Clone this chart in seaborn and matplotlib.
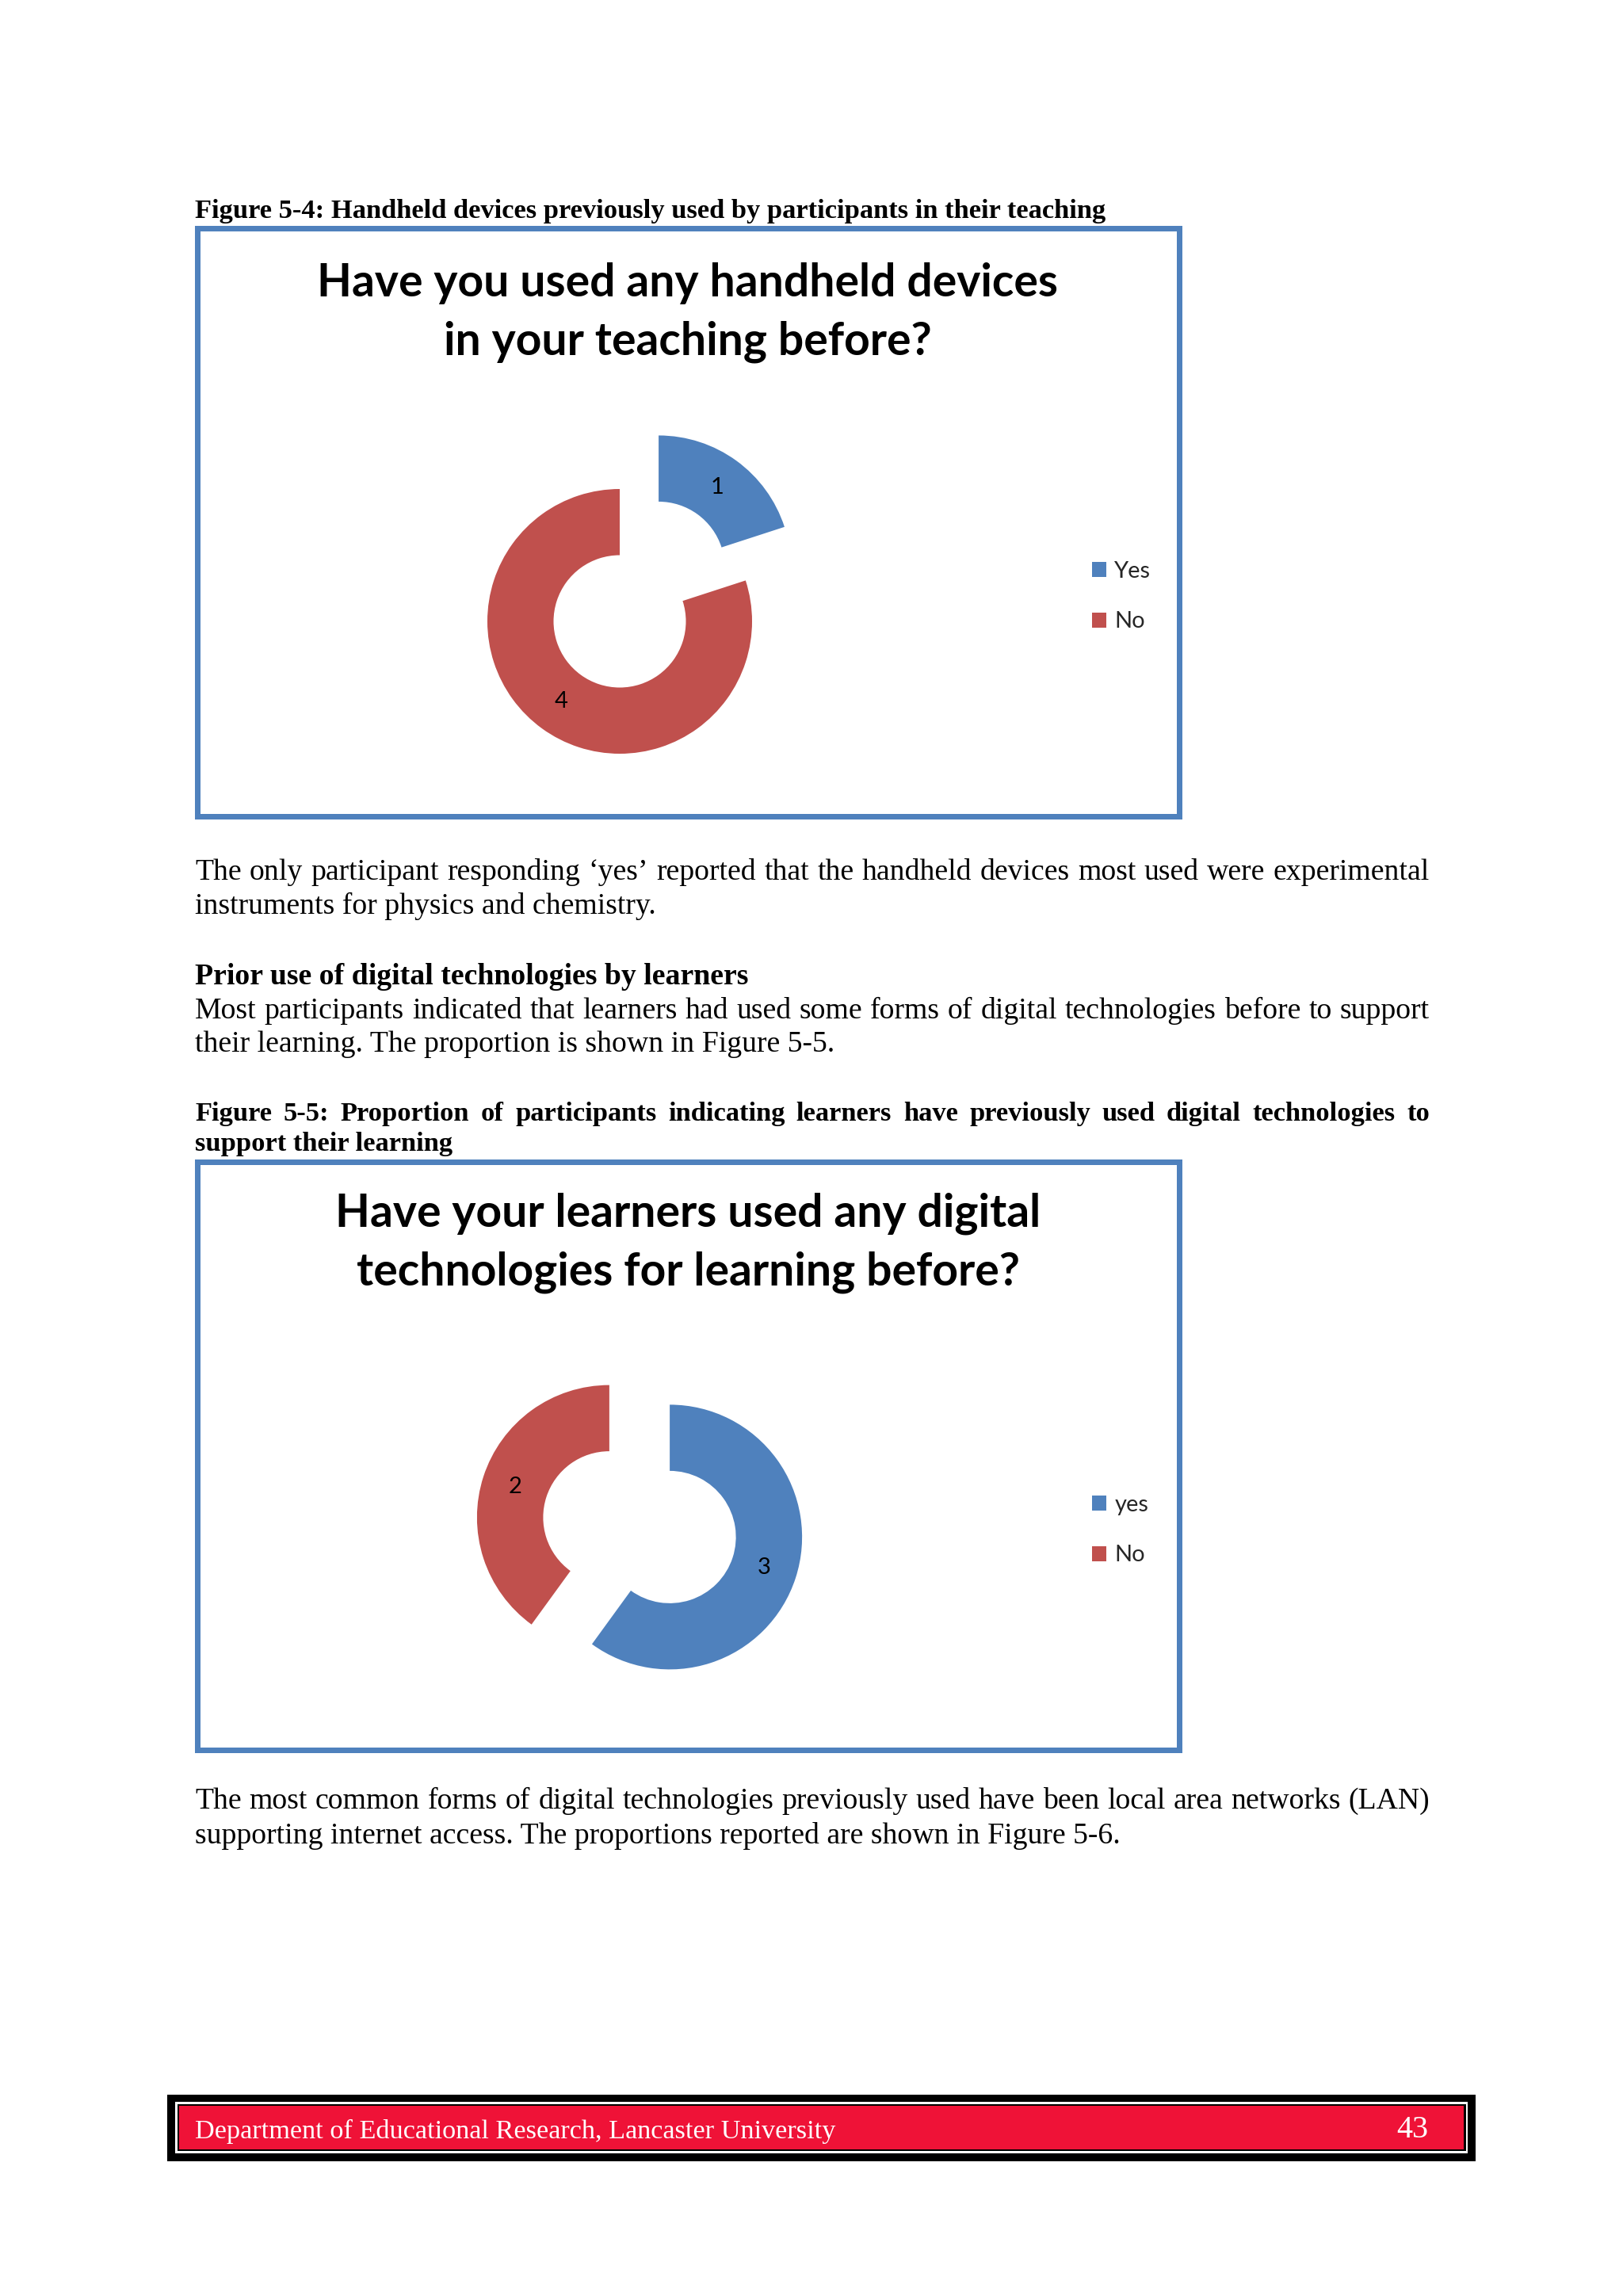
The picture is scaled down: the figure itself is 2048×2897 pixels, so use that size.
import matplotlib
matplotlib.use("Agg")
import matplotlib.pyplot as plt
import seaborn as sns
from matplotlib.patches import Rectangle

sns.set_theme(style="white")
plt.rcParams["font.family"] = ["Lato", "DejaVu Sans"]

# --- data ---
q1_title = ["Have you used any handheld devices", "in your teaching before?"]
q1_labels = ["Yes", "No"]
q1_counts = [1, 4]

q2_title = ["Have your learners used any digital", "technologies for learning before?"]
q2_labels = ["yes", "No"]
q2_counts = [3, 2]

caption_1 = "Figure 5-4: Handheld devices previously used by participants in their teaching"
para_1 = ["The only participant responding \u2018yes\u2019 reported that the handheld devices most used were experimental",
          "instruments for physics and chemistry."]
heading = "Prior use of digital technologies by learners"
para_2 = ["Most participants indicated that learners had used some forms of digital technologies before to support",
          "their learning. The proportion is shown in Figure 5-5."]
caption_2 = ["Figure 5-5: Proportion of participants indicating learners have previously used digital technologies to",
             "support their learning"]
para_3 = ["The most common forms of digital technologies previously used have been local area networks (LAN)",
          "supporting internet access. The proportions reported are shown in Figure 5-6."]
footer_text = "Department of Educational Research, Lancaster University"
page_no = "43"

blue = "#4F81BD"
red = "#C0504D"
W, H = 2048, 2897
pt = 0.72  # px -> pt at dpi 100

fig = plt.figure(figsize=(W / 100, H / 100), dpi=100)
fig.patch.set_facecolor("white")
page = fig.add_axes([0, 0, 1, 1])
page.set_xlim(0, W)
page.set_ylim(H, 0)
page.axis("off")
renderer = fig.canvas.get_renderer()

serif = ["Liberation Serif", "DejaVu Serif"]
X0, X1 = 246, 1804


def line(text, y, size, bold=False, justify=False, color="black", x=X0):
    kw = dict(fontsize=size * pt, family=serif, fontweight="bold" if bold else "normal",
              va="baseline", ha="left", color=color)
    if not justify:
        page.text(x, y, text, **kw)
        return
    words = text.split(" ")
    arts = [page.text(0, y, w, **kw) for w in words]
    widths = [a.get_window_extent(renderer).width for a in arts]
    gap = (X1 - X0 - sum(widths)) / (len(words) - 1)
    xx = X0
    for a, w in zip(arts, widths):
        a.set_x(xx)
        xx += w + gap


BODY = 37.7
CAP = 34.5

line(caption_1, 275, CAP, bold=True)
line(para_1[0], 1110, BODY, justify=True)
line(para_1[1], 1153, BODY)
line(heading, 1242, BODY, bold=True)
line(para_2[0], 1285, BODY, justify=True)
line(para_2[1], 1327, BODY)
line(caption_2[0], 1414, CAP, bold=True, justify=True)
line(caption_2[1], 1452, CAP, bold=True)
line(para_3[0], 2282, BODY, justify=True)
line(para_3[1], 2326, BODY)


def donut(box_top, cx, cy, title, labels, counts, explode, title_y):
    # chart border
    page.add_patch(Rectangle((248.5, box_top), 1239, 742, fill=False,
                             edgecolor=blue, linewidth=7 * pt))
    for t, ty in zip(title, title_y):
        page.text(868, ty, t, ha="center", va="baseline", fontsize=57 * pt,
                  fontweight="bold", color="black")
    R = 167
    half = 2.0
    ax = fig.add_axes([(cx - half * R) / W, 1 - (cy + half * R) / H,
                       2 * half * R / W, 2 * half * R / H])
    ax.set_xlim(-half, half)
    ax.set_ylim(-half, half)
    ax.set_aspect("equal")
    ax.axis("off")
    total = sum(counts)
    wedges, _, autotexts = ax.pie(
        counts, explode=explode, startangle=90, counterclock=False, radius=1,
        colors=[blue, red], wedgeprops=dict(width=0.5, edgecolor="none"),
        autopct=lambda p: f"{round(p * total / 100)}", pctdistance=0.75,
        textprops=dict(fontsize=29 * pt, color="black"))
    ax.set_xlim(-half, half)
    ax.set_ylim(-half, half)
    leg_y = box_top + 465
    fig.legend(wedges, labels, loc="center left",
               bbox_to_anchor=(1378 / W, 1 - leg_y / H),
               frameon=False, fontsize=29 * pt, handlelength=0.62, handleheight=0.62,
               handletextpad=0.36, labelspacing=1.3, borderpad=0, borderaxespad=0)


donut(287.5, 782, 784, q1_title, q1_labels, q1_counts, [0.5, 0], [374, 447])
donut(1465.5, 807, 1927, q2_title, q2_labels, q2_counts, [0.24, 0.24], [1547, 1622])

# footer bar
page.add_patch(Rectangle((211, 2643), 1651, 84, facecolor="black", edgecolor="none"))
page.add_patch(Rectangle((221, 2652), 1631, 65, facecolor="white", edgecolor="none"))
page.add_patch(Rectangle((224, 2655), 1626, 59, facecolor="black", edgecolor="none"))
page.add_patch(Rectangle((226, 2657), 1621, 55, facecolor="#EF1237", edgecolor="none"))
line(footer_text, 2698, 34.3, color="white")
page.text(1802, 2697, page_no, ha="right", va="baseline", fontsize=40 * pt,
          family=serif, color="white")

fig.savefig("out.png", dpi=100, facecolor="white")
